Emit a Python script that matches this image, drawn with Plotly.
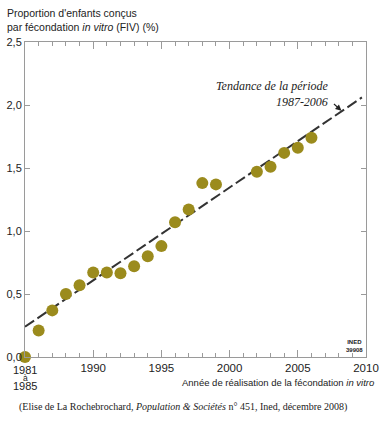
import plotly.graph_objects as go

years = [1985, 1986, 1987, 1988, 1989, 1990, 1991, 1992, 1993, 1994, 1995,
         1996, 1997, 1998, 1999, 2002, 2003, 2004, 2005, 2006]
values = [0.00, 0.21, 0.37, 0.50, 0.57, 0.67, 0.67, 0.665, 0.72, 0.80, 0.88,
          1.07, 1.17, 1.38, 1.37, 1.47, 1.51, 1.62, 1.66, 1.74]
trend_years = [1985, 2009.7]
trend_values = [0.24, 2.06]
x_tickvals = [1985, 1990, 1995, 2000, 2005, 2010]
x_ticktext = ["", "1990", "1995", "2000", "2005", "2010"]
first_tick_lines = ["1981", "à", "1985"]
y_tickvals = [0, 0.5, 1.0, 1.5, 2.0, 2.5]
y_ticktext = ["0,0", "0,5", "1,0", "1,5", "2,0", "2,5"]

FONT = "Liberation Sans, Arial, sans-serif"
SERIF = "Liberation Serif, Times New Roman, serif"
FRAME = "#9a9a9a"
TXT = "#222222"

W, H = 385, 422
# plot area in screenshot pixels: x 25..366, y 42..357
L, T = 25, 42
R = W - 366
B = H - 357
PW, PH = W - L - R, H - T - B


def px(xpix):
    return (xpix - L) / PW


def py(ypix):
    return (H - B - ypix) / PH


fig = go.Figure()
fig.add_trace(go.Scatter(
    x=trend_years, y=trend_values, mode="lines",
    line=dict(color="#333333", width=2, dash="11px,4px"),
    hoverinfo="skip", showlegend=False))
fig.add_trace(go.Scatter(
    x=years, y=values, mode="markers",
    marker=dict(color="#9b8b1d", size=12, line=dict(width=0)),
    cliponaxis=False, showlegend=False))

fig.update_layout(
    width=W, height=H,
    margin=dict(l=L, r=R, t=T, b=B, autoexpand=False),
    paper_bgcolor="white", plot_bgcolor="white",
    font=dict(family=FONT, size=12, color=TXT),
    showlegend=False,
    xaxis=dict(
        range=[1985, 2010], tickvals=x_tickvals, ticktext=x_ticktext,
        ticks="inside", ticklen=7, tickcolor=FRAME, tickwidth=1,
        minor=dict(dtick=1, tick0=1985, ticks="inside", ticklen=4, tickcolor=FRAME),
        showline=True, linecolor=FRAME, linewidth=1, mirror="ticks",
        showgrid=False, zeroline=False, automargin=False,
        tickfont=dict(family=FONT, size=11.5, color=TXT)),
    yaxis=dict(
        range=[0, 2.5], tickvals=y_tickvals, ticktext=y_ticktext,
        ticks="inside", ticklen=5, tickcolor=FRAME, tickwidth=1,
        showline=True, linecolor=FRAME, linewidth=1, mirror="ticks",
        showgrid=False, zeroline=False, automargin=False,
        tickfont=dict(family=FONT, size=11, color=TXT)),
)

# first x tick label "1981 à 1985", stacked tightly
for txt, ypix, size in zip(first_tick_lines, [369.5, 377.5, 386], [11, 8.5, 11]):
    fig.add_annotation(
        xref="x", yref="paper", x=x_tickvals[0], y=py(ypix),
        xanchor="center", yanchor="middle", text=txt, showarrow=False,
        borderpad=0, font=dict(family=FONT, size=size, color=TXT))

fig.add_annotation(
    xref="paper", yref="paper", x=px(5), y=py(35), xanchor="left", yanchor="bottom",
    text="Proportion d'enfants conçus<br>par fécondation <i>in vitro</i> (FIV) (%)",
    align="left", showarrow=False,
    font=dict(family=FONT, size=10.5, color=TXT))
fig.add_annotation(
    xref="paper", yref="paper", x=px(376), y=py(382), xanchor="right", yanchor="middle",
    text="Année de réalisation de la fécondation <i>in vitro</i>",
    showarrow=False, font=dict(family=FONT, size=9.5, color=TXT))
fig.add_annotation(
    xref="paper", yref="paper", x=px(331), y=py(94.5), xanchor="right", yanchor="middle",
    text="<i>Tendance de la période<br>1987-2006</i>", align="right",
    showarrow=False, font=dict(family=SERIF, size=12, color=TXT))
fig.add_annotation(
    x=2008.2, y=1.955, xref="x", yref="y", text="",
    showarrow=True, ax=-9, ay=-8, arrowhead=2, arrowsize=1, arrowwidth=1.2,
    arrowcolor=TXT)
fig.add_annotation(
    xref="paper", yref="paper", x=px(354), y=py(346), xanchor="center", yanchor="middle",
    text="<b>INED<br>39908</b>", align="center", showarrow=False,
    font=dict(family=FONT, size=6, color=TXT))
fig.add_annotation(
    xref="paper", yref="paper", x=px(17), y=py(407), xanchor="left", yanchor="middle",
    text="(Elise de La Rochebrochard, <i>Population & Sociétés</i> n° 451, Ined, décembre 2008)",
    showarrow=False, font=dict(family=SERIF, size=10, color=TXT))

fig.write_html("out.html",
               config={"displayModeBar": False},
               post_script="document.body.style.margin='0';document.body.style.overflow='hidden';")
